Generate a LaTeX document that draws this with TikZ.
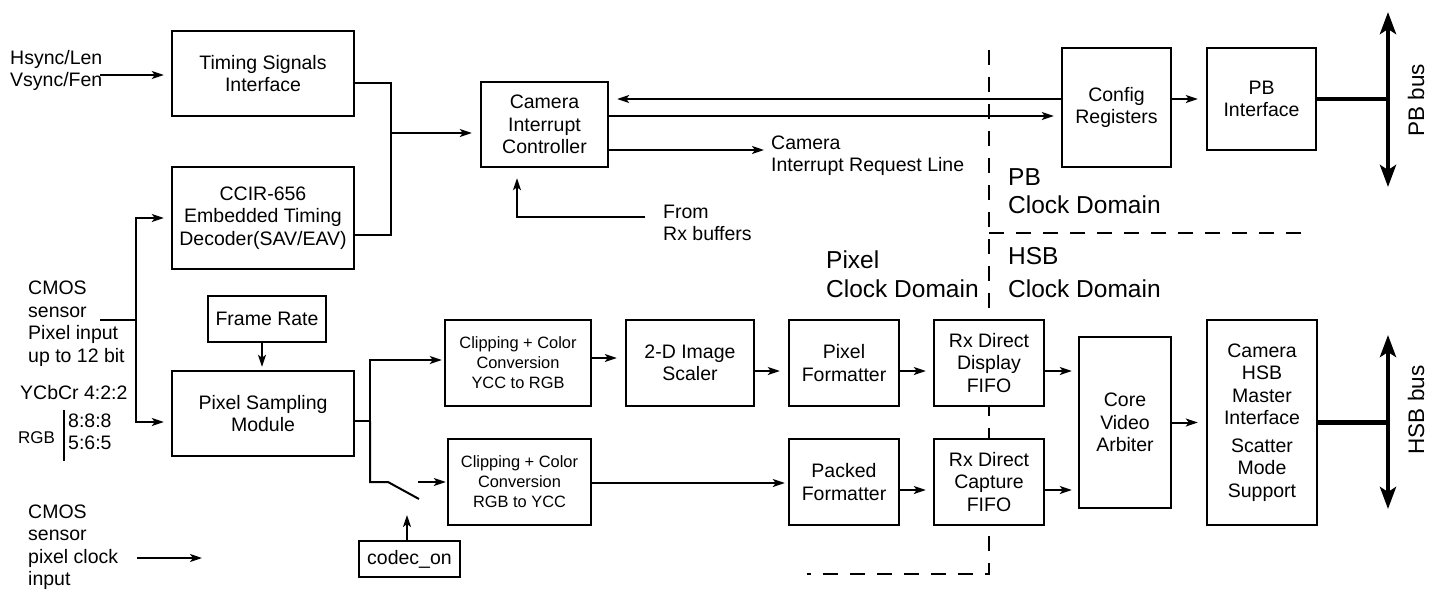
\documentclass[tikz,border=0pt]{standalone}
\usepackage{fontspec}
\setmainfont{Liberation Sans}
\usetikzlibrary{arrows.meta}
\newcommand{\dgmain}{\fontsize{19.5}{22.5}\selectfont}
\newcommand{\dgsmall}{\fontsize{16.4}{20}\selectfont}
\newcommand{\dgdom}{\fontsize{24.5}{29}\selectfont}
\newcommand{\dgbus}{\fontsize{22.5}{26}\selectfont}
\newcommand{\dgrgb}{\fontsize{17}{20}\selectfont}
\begin{document}
\begin{tikzpicture}[x=1pt,y=-1pt,
  box/.style={draw, line width=2.4pt, fill=white, inner sep=0pt, align=center, font=\dgmain},
  sbox/.style={box, font=\dgsmall},
  line/.style={line width=2pt},
  arr/.style={line width=2pt, -{Stealth[length=12pt,width=8pt,inset=3pt]}},
  bus/.style={line width=4.5pt},
  busarr/.style={line width=4.5pt, {Stealth[length=22pt,width=16pt,inset=5pt]}-{Stealth[length=22pt,width=16pt,inset=5pt]}},
  dom/.style={line width=2pt, dash pattern=on 15pt off 12pt},
  lbl/.style={inner sep=0pt, align=left, anchor=west, font=\dgmain},
]
\useasboundingbox (0,0) rectangle (1430,592);

% clock domain borders
\coordinate (dTop) at (989,50);
\coordinate (dBot) at (989,574);
\coordinate (dBL) at (807,574);
\coordinate (dMid) at (989,233);
\coordinate (dMR) at (1307,233);
\draw[dom] (dTop) -- (dBot) -- (dBL);
\draw[dom] (dMid) -- (dMR);

% boxes
\node[box, minimum width=182, minimum height=85] (tsi) at (263,73.5) {Timing Signals\\Interface};
\node[box, minimum width=182, minimum height=102] (ccir) at (263,218) {CCIR-656\\Embedded Timing\\Decoder(SAV/EAV)};
\node[box, minimum width=118, minimum height=46] (frame) at (267,319) {Frame Rate};
\node[box, minimum width=182, minimum height=85] (psm) at (263,413.5) {Pixel Sampling\\Module};
\node[box, minimum width=101, minimum height=36] (codec) at (409.5,559) {codec\_on};
\node[box, minimum width=127, minimum height=85] (cic) at (544.5,124.5) {Camera\\Interrupt\\Controller};
\node[box, minimum width=109, minimum height=119] (cfg) at (1116.5,107.5) {Config\\Registers};
\node[box, minimum width=109, minimum height=102] (pbi) at (1261.5,99) {PB\\Interface};
\node[sbox, minimum width=146, minimum height=86] (clip1) at (518,363) {Clipping + Color\\Conversion\\YCC to RGB};
\node[box, minimum width=128, minimum height=86] (scaler) at (690,363) {2-D Image\\Scaler};
\node[box, minimum width=110, minimum height=86] (pixf) at (844,363) {Pixel\\Formatter};
\node[box, minimum width=110, minimum height=86] (fifo1) at (989,363) {Rx Direct\\Display\\FIFO};
\node[sbox, minimum width=143, minimum height=86] (clip2) at (519.5,482) {Clipping + Color\\Conversion\\RGB to YCC};
\node[box, minimum width=110, minimum height=86] (packf) at (844,482) {Packed\\Formatter};
\node[box, minimum width=110, minimum height=86] (fifo2) at (989,482) {Rx Direct\\Capture\\FIFO};
\node[box, minimum width=92, minimum height=171] (cva) at (1125,422.5) {Core\\Video\\Arbiter};
\node[box, minimum width=110, minimum height=205] (hsbm) at (1262,422.5) {Camera\\HSB\\Master\\Interface\\[5pt]Scatter\\Mode\\Support};

% free labels
\node[lbl] (hs) at (10,70.5) {Hsync/Len\\Vsync/Fen};
\node[lbl] (cmos) at (28,323.5) {CMOS\\sensor\\Pixel input\\up to 12 bit};
\node[lbl] (ycbcr) at (20,393) {YCbCr 4:2:2};
\node[lbl, font=\dgrgb] (rgb) at (18,438) {RGB};
\node[lbl, font=\dgmain] (ratios) at (68,432) {8:8:8\\5:6:5};
\draw[line width=1.5pt] (64,410) -- (64,461);
\node[lbl] (clk) at (28,547) {CMOS\\sensor\\pixel clock\\input};
\node[lbl] (irq) at (771,155.5) {Camera\\Interrupt Request Line};
\node[lbl] (rx) at (663,223) {From\\Rx buffers};
\node[lbl, font=\dgdom] (pixdom) at (826,274.5) {Pixel\\Clock Domain};
\node[lbl, font=\dgdom] (pbdom) at (1008,191) {PB\\[-1pt]Clock Domain};
\node[lbl, font=\dgdom] (hsbdom) at (1008,273) {HSB\\[4pt]Clock Domain};
\node[inner sep=0pt, font=\dgbus, rotate=90] (pbbus) at (1416,100) {PB bus};
\node[inner sep=0pt, font=\dgbus, rotate=90] (hsbbus) at (1416,410) {HSB bus};

% top connectors
\coordinate (hsA) at (100,75);
\draw[arr, shorten >=7pt] (hsA) -- (hsA -| tsi.west);
\coordinate (j1) at (391,133);
\coordinate (tsiO) at ([yshift=-9.5pt]tsi.east);
\coordinate (ccirO) at ([yshift=-17pt]ccir.east);
\draw[line] (tsiO) -| (j1) |- (ccirO);
\draw[arr, shorten >=8pt] (j1) -- (j1 -| cic.west);
\coordinate (c1) at ([yshift=8.5pt]cfg.west);
\draw[arr, shorten >=8pt] (c1) -- (c1 -| cic.east);
\coordinate (c2) at ([yshift=8.5pt]cic.east);
\draw[arr, shorten >=7pt] (c2) -- (c2 -| cfg.west);
\coordinate (c3) at ([yshift=-25.5pt]cic.east);
\coordinate (irqEnd) at (764,150);
\draw[arr] (c3) -- (irqEnd);
\coordinate (rxFrom) at (645,217);
\coordinate (cicIn) at ([xshift=-27.5pt]cic.south);
\draw[arr, shorten >=10pt] (rxFrom) -| (cicIn);
\coordinate (c4) at ([yshift=8.5pt]cfg.east);
\draw[arr, shorten >=8pt] (c4) -- (c4 -| pbi.west);
\coordinate (pbTop) at (1388,12);
\coordinate (pbBot) at (1388,187);
\draw[bus] (pbi.east) -- (pbi.east -| pbTop);
\draw[busarr] (pbBot) -- (pbTop);

% bottom connectors
\coordinate (cmosA) at (100,320);
\coordinate (sp) at (136,320);
\draw[line] (cmosA) -- (sp);
\draw[arr, shorten >=7pt] (sp) |- (ccir.west);
\coordinate (psmIn) at ([yshift=-8.5pt]psm.west);
\draw[arr, shorten >=7pt] (sp) |- (psmIn);
\coordinate (frO) at ([xshift=-5pt]frame.south);
\draw[arr, shorten >=3pt] (frO) -- (frO |- psm.north);
\coordinate (psmO) at ([yshift=-7.5pt]psm.east);
\coordinate (sw) at (370,421);
\draw[line] (psmO) -- (sw);
\coordinate (clip1In) at ([yshift=3pt]clip1.west);
\draw[arr, shorten >=2pt] (sw) |- (clip1In);
\coordinate (swA) at (388,482);
\coordinate (swB) at (419,499);
\draw[line] (sw) |- (swA) -- (swB);
\coordinate (swC) at (418,482);
\draw[arr, shorten >=1pt] (swC) -- (clip2.west);
\coordinate (cdO) at ([xshift=-2.5pt]codec.north);
\coordinate (cdTip) at (407,515);
\draw[arr] (cdO) -- (cdTip);
\coordinate (clkA) at (137,558);
\coordinate (clkB) at (202,558);
\draw[arr] (clkA) -- (clkB);

\coordinate (e1) at ([yshift=5pt]clip1.east);
\draw[arr, shorten >=8pt] (e1) -- (e1 -| scaler.west);
\coordinate (e2) at ([yshift=-8pt]scaler.east);
\draw[arr, shorten >=8pt] (e2) -- (e2 -| pixf.west);
\coordinate (e3) at ([yshift=-8pt]pixf.east);
\draw[arr, shorten >=7pt] (e3) -- (e3 -| fifo1.west);
\coordinate (e4) at ([yshift=-1pt]clip2.east);
\draw[arr, shorten >=3pt] (e4) -- (e4 -| packf.west);
\coordinate (e5) at ([yshift=-8pt]packf.east);
\draw[arr, shorten >=7pt] (e5) -- (e5 -| fifo2.west);
\coordinate (e6) at ([yshift=-8pt]fifo1.east);
\draw[arr, shorten >=6pt] (e6) -- (e6 -| cva.west);
\coordinate (e7) at ([yshift=-8pt]fifo2.east);
\draw[arr, shorten >=6pt] (e7) -- (e7 -| cva.west);
\draw[arr, shorten >=8pt] (cva.east) -- (cva.east -| hsbm.west);
\coordinate (hsbTop) at (1388,335);
\coordinate (hsbBot) at (1388,509);
\draw[bus] (hsbm.east) -- (hsbm.east -| hsbTop);
\draw[busarr] (hsbBot) -- (hsbTop);
\end{tikzpicture}
\end{document}
